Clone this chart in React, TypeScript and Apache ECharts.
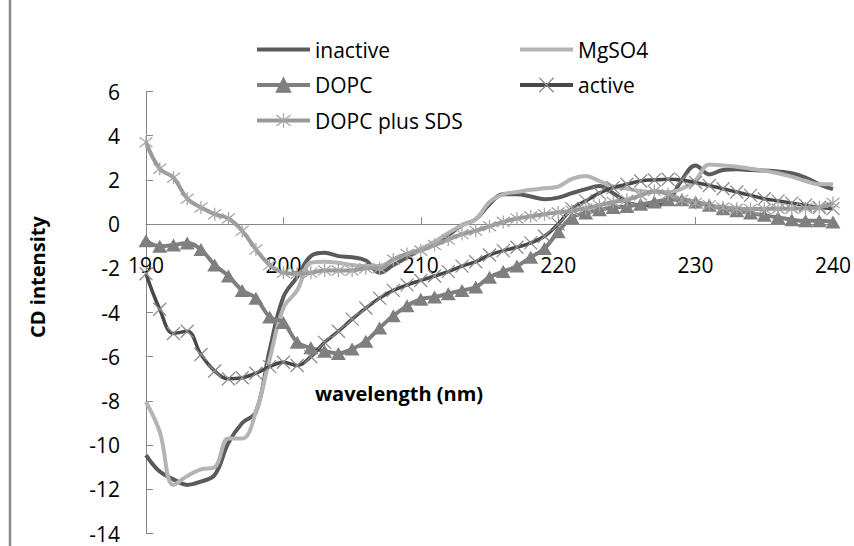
import React, { useEffect, useRef } from 'react';
import * as echarts from 'echarts';

const wavelength = [
  190, 191, 192, 193, 194, 195, 196, 197, 198, 199,
  200, 201, 202, 203, 204, 205, 206, 207, 208, 209,
  210, 211, 212, 213, 214, 215, 216, 217, 218, 219,
  220, 221, 222, 223, 224, 225, 226, 227, 228, 229,
  230, 231, 232, 233, 234, 235, 236, 237, 238, 239, 240,
];

const inactive = [
  -10.45, -11.2, -11.55, -11.8, -11.65, -11.35, -9.9, -9.0, -8.5, -5.7,
  -3.3, -2.4, -1.45, -1.3, -1.45, -1.5, -1.65, -2.2, -1.85, -1.5,
  -1.13, -0.85, -0.5, -0.05, 0.22, 0.9, 1.35, 1.35, 1.25, 1.13,
  1.2, 1.4, 1.58, 1.72, 1.4, 1.0, 0.85, 0.85, 1.05, 2.0,
  2.65, 2.25, 2.45, 2.48, 2.45, 2.42, 2.38, 2.3, 2.1, 1.8, 1.58,
];

const mgso4 = [
  -8.05, -9.4, -11.8, -11.4, -11.1, -11.0, -9.7, -9.7, -8.5, -6.1,
  -3.8, -3.0, -1.75, -1.7, -1.75, -1.85, -1.9, -1.9, -1.6, -1.35,
  -1.13, -0.8, -0.4, -0.05, 0.22, 1.0, 1.35, 1.45, 1.55, 1.62,
  1.7, 2.05, 2.18, 1.95, 1.7, 1.6, 1.5, 1.45, 1.45, 1.6,
  2.0, 2.7, 2.65, 2.6, 2.5, 2.42, 2.3, 2.15, 1.95, 1.8, 1.8,
];

const dopc = [
  -0.75, -1.0, -0.95, -0.85, -1.15, -1.85, -2.35, -3.0, -3.35, -4.2,
  -4.45, -5.35, -5.6, -5.75, -5.85, -5.65, -5.3, -4.7, -4.15, -3.7,
  -3.4, -3.3, -3.15, -3.0, -2.85, -2.4, -2.15, -1.9, -1.5, -1.1,
  -0.35, 0.3, 0.5, 0.65, 0.75, 0.8, 0.9, 1.0, 1.1, 1.1,
  1.0, 0.85, 0.7, 0.6, 0.5, 0.4, 0.3, 0.2, 0.15, 0.15, 0.1,
];

const active = [
  -2.25, -3.85, -4.95, -4.85, -5.9, -6.65, -7.0, -6.95, -6.75, -6.45,
  -6.25, -6.4, -6.0, -5.35, -4.85, -4.3, -3.8, -3.35, -3.0, -2.75,
  -2.55, -2.35, -2.15, -1.9, -1.7, -1.4, -1.2, -1.05, -0.85, -0.55,
  0.0, 0.7, 1.05, 1.4, 1.65, 1.8, 1.95, 2.0, 2.03, 2.0,
  1.88, 1.75, 1.6, 1.45, 1.3, 1.15, 1.05, 0.95, 0.85, 0.75, 0.7,
];

const dopcSds = [
  3.7, 2.5, 2.1, 1.15, 0.75, 0.45, 0.25, -0.3, -1.15, -1.85,
  -2.2, -2.25, -2.2, -2.1, -2.1, -2.1, -2.0, -2.0, -1.6, -1.35,
  -1.2, -0.95, -0.7, -0.45, -0.3, -0.1, 0.1, 0.25, 0.35, 0.45,
  0.53, 0.6, 0.72, 0.85, 1.0, 1.1, 1.3, 1.5, 1.35, 1.1,
  0.95, 0.85, 0.75, 0.7, 0.68, 0.68, 0.7, 0.7, 0.72, 0.76, 0.95,
];

const X_SYMBOL = 'path://M0,0L10,10M10,0L0,10';
const STAR_SYMBOL = 'path://M0,0L10,10M10,0L0,10M5,-1.5L5,11.5';
const BAR_ICON = 'path://M0,0L53,0L53,4L0,4Z';

const FONT = '"Open Sans", "Noto Sans", sans-serif';

const Y_MIN = -14;
const Y_MAX = 6;
const GRID_TOP = 91.5;
const GRID_BOTTOM = 12.5;
const CHART_H = 546;
// distance from the grid bottom up to the y = 0 line (x axis crosses at zero)
const plotH = CHART_H - GRID_TOP - GRID_BOTTOM;
const zeroOffset = (plotH * (0 - Y_MIN)) / (Y_MAX - Y_MIN);

function pairs(ys: number[]) {
  return wavelength.map((x, i) => [x, ys[i]]);
}

export default function App() {
  const ref = useRef<HTMLDivElement>(null);

  useEffect(() => {
    document.body.style.margin = '0';
    if (!ref.current) return;
    const chart = echarts.init(ref.current, undefined, { renderer: 'svg' });

    const legendCommon = {
      orient: 'vertical' as const,
      padding: 0,
      itemWidth: 53,
      itemHeight: 18,
      itemGap: 14.5,
      textStyle: { fontFamily: FONT, fontSize: 21, color: '#000', lineHeight: 18 },
      lineStyle: { width: 4 },
      itemStyle: { borderWidth: 1.3 },
      selectedMode: false,
    };

    chart.setOption({
      animation: false,
      backgroundColor: '#fff',
      textStyle: { fontFamily: FONT },
      grid: { left: 146, right: 20.5, top: GRID_TOP, bottom: GRID_BOTTOM, containLabel: false },
      legend: [
        {
          ...legendCommon,
          left: 255,
          top: 39,
          data: [
            { name: 'inactive', icon: BAR_ICON },
            { name: 'DOPC' },
            { name: 'DOPC plus SDS' },
          ],
        },
        {
          ...legendCommon,
          left: 518,
          top: 39,
          data: [
            { name: 'MgSO4', icon: BAR_ICON },
            { name: 'active' },
          ],
        },
      ],
      xAxis: {
        type: 'value',
        position: 'bottom',
        offset: -zeroOffset,
        min: 190,
        max: 240,
        interval: 10,
        axisLine: { onZero: false, lineStyle: { color: '#868686', width: 1 } },
        axisTick: { inside: true, length: 7, lineStyle: { color: '#868686' } },
        splitLine: { show: false },
        axisLabel: { margin: 30, fontSize: 21, color: '#000', fontFamily: FONT },
      },
      yAxis: {
        type: 'value',
        min: Y_MIN,
        max: Y_MAX,
        interval: 2,
        axisLine: { show: true, onZero: false, lineStyle: { color: '#868686', width: 1 } },
        axisTick: { show: true, inside: true, length: 7, lineStyle: { color: '#868686' } },
        splitLine: { show: false },
        axisLabel: { margin: 26, fontSize: 21, lineHeight: 18, color: '#000', fontFamily: FONT },
      },
      graphic: [
        {
          type: 'line',
          shape: { x1: 10, y1: 0, x2: 10, y2: 546 },
          style: { stroke: '#8a8a8a', lineWidth: 2.5 },
        },
        {
          type: 'text',
          x: 399,
          y: 393,
          style: {
            text: 'wavelength (nm)',
            font: `bold 20px ${FONT}`,
            fill: '#000',
            align: 'center',
            verticalAlign: 'middle',
          },
        },
        {
          type: 'text',
          x: 37,
          y: 277,
          rotation: Math.PI / 2,
          style: {
            text: 'CD intensity',
            font: `bold 20px ${FONT}`,
            fill: '#000',
            align: 'center',
            verticalAlign: 'middle',
          },
        },
      ],
      series: [
        {
          name: 'inactive',
          type: 'line',
          data: pairs(inactive),
          smooth: 0.4,
          symbol: 'none',
          lineStyle: { color: '#5a5a5a', width: 4 },
          itemStyle: { color: '#5a5a5a' },
        },
        {
          name: 'MgSO4',
          type: 'line',
          data: pairs(mgso4),
          smooth: 0.4,
          symbol: 'none',
          lineStyle: { color: '#b4b4b4', width: 4 },
          itemStyle: { color: '#b4b4b4' },
        },
        {
          name: 'DOPC',
          type: 'line',
          data: pairs(dopc),
          smooth: 0.4,
          symbol: 'triangle',
          symbolSize: [15, 13],
          lineStyle: { color: '#7f7f7f', width: 4 },
          itemStyle: { color: '#7f7f7f', borderColor: '#7f7f7f', borderWidth: 0 },
        },
        {
          name: 'active',
          type: 'line',
          data: pairs(active),
          smooth: 0.4,
          symbol: X_SYMBOL,
          symbolSize: 13,
          lineStyle: { color: '#484848', width: 3.5 },
          itemStyle: { color: 'rgba(0,0,0,0)', borderColor: '#8c8c8c', borderWidth: 1.3 },
        },
        {
          name: 'DOPC plus SDS',
          type: 'line',
          data: pairs(dopcSds),
          smooth: 0.4,
          symbol: STAR_SYMBOL,
          symbolSize: 13,
          lineStyle: { color: '#9a9a9a', width: 4 },
          itemStyle: { color: 'rgba(0,0,0,0)', borderColor: '#a6a6a6', borderWidth: 1.3 },
        },
      ],
    });

    return () => {
      chart.dispose();
    };
  }, []);

  return <div ref={ref} style={{ width: 854, height: 546 }} />;
}
